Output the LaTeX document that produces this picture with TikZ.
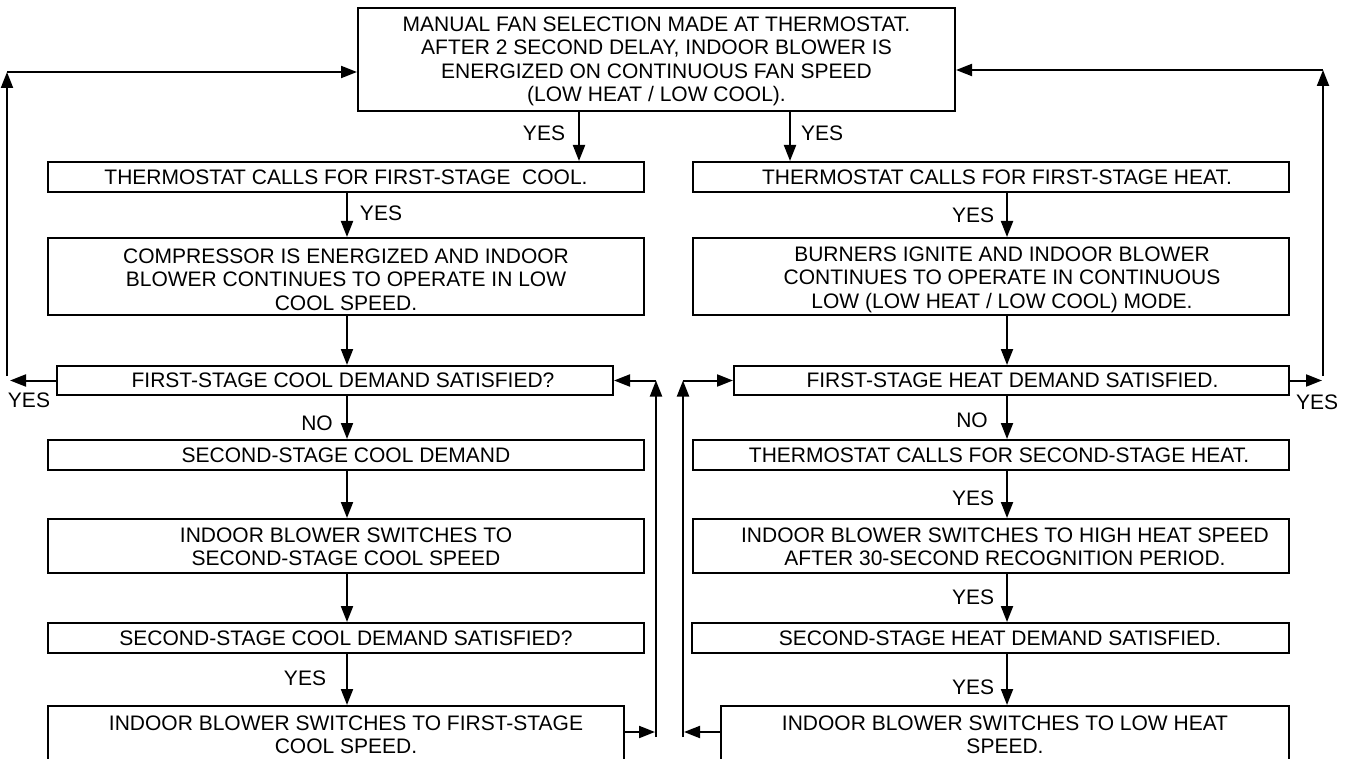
\documentclass[tikz,border=0pt]{standalone}
\usepackage{fontspec}
\setmainfont{Liberation Sans}
\usetikzlibrary{arrows.meta}
\newcommand\ff{\fontsize{21pt}{23.5pt}\selectfont}
\tikzset{
  box/.style={draw, line width=2pt, inner sep=0pt},
  txt/.style={font=\ff, align=center, inner sep=0pt},
  arr/.style={line width=2pt, -{Triangle[length=16pt,width=12pt]}},
  lbl/.style={font=\ff, inner sep=0pt},
}
\begin{document}
\begin{tikzpicture}[x=1pt,y=-1pt]
\useasboundingbox (0,0) rectangle (1346,759);
\clip (0,0) rectangle (1346,759);
\fill[white] (0,0) rectangle (1346,759);

% boxes
\node[box, minimum width=597pt, minimum height=103pt,
  label={[txt, yshift=-2pt]center:{MANUAL FAN SELECTION MADE AT THERMOSTAT.\\AFTER 2 SECOND DELAY, INDOOR BLOWER IS\\ENERGIZED ON CONTINUOUS FAN SPEED\\(LOW HEAT / LOW COOL).}}]
  (T) at (656.5,59.5) {};

\node[box, minimum width=596pt, minimum height=30pt,
  label={[txt]center:{THERMOSTAT CALLS FOR FIRST-STAGE~ COOL.}}] (L2) at (346,177) {};
\node[box, minimum width=596pt, minimum height=30pt,
  label={[txt, xshift=6pt]center:{THERMOSTAT CALLS FOR FIRST-STAGE HEAT.}}] (R2) at (991,177) {};

\node[box, minimum width=596pt, minimum height=77pt,
  label={[txt, yshift=-3pt]center:{COMPRESSOR IS ENERGIZED AND INDOOR\\BLOWER CONTINUES TO OPERATE IN LOW\\COOL SPEED.}}] (L3) at (346,276.5) {};
\node[box, minimum width=596pt, minimum height=77pt,
  label={[txt, xshift=11pt, yshift=-3pt]center:{BURNERS IGNITE AND INDOOR BLOWER\\CONTINUES TO OPERATE IN CONTINUOUS\\LOW (LOW HEAT / LOW COOL) MODE.}}] (R3) at (991,276.5) {};

\node[box, minimum width=556pt, minimum height=29pt,
  label={[txt, xshift=8pt]center:{FIRST-STAGE COOL DEMAND SATISFIED?}}] (L4) at (335,380.5) {};
\node[box, minimum width=555pt, minimum height=29pt,
  label={[txt, xshift=1pt]center:{FIRST-STAGE HEAT DEMAND SATISFIED.}}] (R4) at (1011.5,380.5) {};

\node[box, minimum width=596pt, minimum height=30pt,
  label={[txt]center:{SECOND-STAGE COOL DEMAND}}] (L5) at (346,455) {};
\node[box, minimum width=596pt, minimum height=30pt,
  label={[txt, xshift=8pt]center:{THERMOSTAT CALLS FOR SECOND-STAGE HEAT.}}] (R5) at (991,455) {};

\node[box, minimum width=596pt, minimum height=54pt,
  label={[txt, yshift=-1pt]center:{INDOOR BLOWER SWITCHES TO\\SECOND-STAGE COOL SPEED}}] (L6) at (346,546) {};
\node[box, minimum width=596pt, minimum height=54pt,
  label={[txt, xshift=14pt, yshift=-1pt]center:{INDOOR BLOWER SWITCHES TO HIGH HEAT SPEED\\AFTER 30-SECOND RECOGNITION PERIOD.}}] (R6) at (991,546) {};

\node[box, minimum width=596pt, minimum height=30pt,
  label={[txt]center:{SECOND-STAGE COOL DEMAND SATISFIED?}}] (L7) at (346,638) {};
\node[box, minimum width=597pt, minimum height=30pt,
  label={[txt, xshift=9.5pt]center:{SECOND-STAGE HEAT DEMAND SATISFIED.}}] (R7) at (990.5,638) {};

\node[box, minimum width=576pt, minimum height=100pt,
  label={[txt, xshift=10pt, yshift=21pt]center:{INDOOR BLOWER SWITCHES TO FIRST-STAGE\\COOL SPEED.}}] (L8) at (336,756) {};
\node[box, minimum width=568pt, minimum height=100pt,
  label={[txt, yshift=21pt]center:{INDOOR BLOWER SWITCHES TO LOW HEAT\\SPEED.}}] (R8) at (1005,756) {};

% column coordinates
\coordinate (xa) at (579,0);
\coordinate (xb) at (790,0);
\coordinate (cl) at (347,0);
\coordinate (cr) at (1007,0);

% main flow arrows
\draw[arr] (T.south -| xa) -- (L2.north -| xa);
\draw[arr] (T.south -| xb) -- (R2.north -| xb);
\draw[arr] (L2.south -| cl) -- (L3.north -| cl);
\draw[arr] (R2.south -| cr) -- (R3.north -| cr);
\draw[arr] (L3.south -| cl) -- (L4.north -| cl);
\draw[arr] (R3.south -| cr) -- (R4.north -| cr);
\draw[arr] (L4.south -| cl) -- (L5.north -| cl);
\draw[arr] (R4.south -| cr) -- (R5.north -| cr);
\draw[arr] (L5.south -| cl) -- (L6.north -| cl);
\draw[arr] (R5.south -| cr) -- (R6.north -| cr);
\draw[arr] (L6.south -| cl) -- (L7.north -| cl);
\draw[arr] (R6.south -| cr) -- (R7.north -| cr);
\draw[arr] (L7.south -| cl) -- (L8.north -| cl);
\draw[arr] (R7.south -| cr) -- (R8.north -| cr);

% outer loops
\coordinate (ylt) at (10,380.5);
\coordinate (lb) at (7,376);
\coordinate (lt) at (7,72);
\draw[arr] (L4.west) -- (ylt);
\draw[arr] (lb) -- (lt);
\draw[arr] (lt) -- (lt -| T.west);

\coordinate (yrt) at (1322,380.5);
\coordinate (rb) at (1323,376);
\coordinate (rt) at (1323,70);
\draw[arr] (R4.east) -- (yrt);
\draw[arr] (rb) -- (rt);
\draw[arr] (rt) -- (rt -| T.east);

% middle loops
\coordinate (m8) at (0,732);
\coordinate (ml) at (656,737);
\coordinate (mlt) at (656,380.5);
\coordinate (mr) at (683,737);
\coordinate (mrt) at (683,380.5);
\draw[arr] (ml) -- (mlt);
\draw[arr] (mlt) -- (L4.east);
\draw[arr] (m8 -| L8.east) -- (655,732);
\draw[arr] (mr) -- (mrt);
\draw[arr] (mrt) -- (R4.west);
\draw[arr] (m8 -| R8.west) -- (684,732);

% labels
\node[lbl] (yA) at (544,133) {YES};
\node[lbl] (yB) at (822,133) {YES};
\node[lbl] (yC) at (381,213.5) {YES};
\node[lbl] (yD) at (973,215) {YES};
\node[lbl] (nL) at (317,423) {NO};
\node[lbl] (nR) at (972,420) {NO};
\node[lbl] (yE) at (973,498) {YES};
\node[lbl] (yF) at (973,597) {YES};
\node[lbl] (yG) at (305,678) {YES};
\node[lbl] (yH) at (973,687) {YES};
\node[lbl] (yL) at (29,400) {YES};
\node[lbl] (yR) at (1317,402) {YES};
\end{tikzpicture}
\end{document}
